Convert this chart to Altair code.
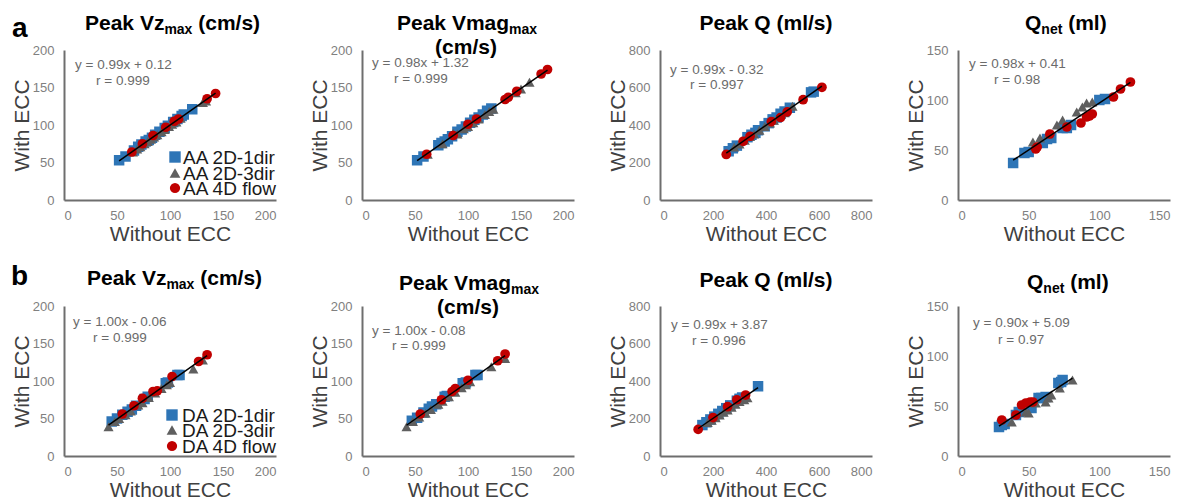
import altair as alt
import pandas as pd

# ---------------- data ----------------
SERIES = ["2D-1dir", "2D-3dir", "4D flow"]
COLORS = ["#2E75B6", "#5F5F5F", "#C00000"]
SHAPES = ["square", "triangle-up", "circle"]
SIZES = [110, 95, 85]

# Row a : ascending aorta (AA)
AA_VZ_1DIR = [(52, 53), (58, 58), (66, 66), (70, 71), (73, 74), (77, 78), (80, 80), (83, 83), (86, 87), (90, 91),
              (95, 96), (98, 99), (103, 104), (107, 108), (111, 112), (113, 114), (121, 121)]
AA_VZ_3DIR = [(65, 64), (69, 68), (72, 71), (76, 75), (79, 78), (82, 81), (85, 84), (88, 87), (92, 91), (95, 94),
              (99, 98), (102, 101), (106, 104), (110, 109), (131, 130), (134, 132)]
AA_VZ_4D = [(64, 64), (74, 75), (84, 86), (96, 97), (104, 105), (108, 108), (135, 135), (143, 142)]

AA_VMAG_1DIR = [(52, 53), (58, 58), (72, 73), (75, 76), (78, 78), (81, 81), (85, 85), (90, 91), (94, 94), (98, 98),
                (102, 103), (106, 107), (110, 110), (114, 114), (118, 119), (122, 122)]
AA_VMAG_3DIR = [(62, 61), (76, 75), (86, 89), (90, 88), (96, 95), (100, 98), (105, 103), (110, 108), (116, 114),
                (120, 118), (124, 121), (145, 143), (150, 148), (158, 157)]
AA_VMAG_4D = [(61, 61), (86, 86), (100, 101), (108, 108), (135, 134), (138, 137), (146, 145), (169, 168), (175, 174)]

AA_Q_1DIR = [(259, 260), (275, 276), (290, 290), (330, 335), (345, 348), (360, 358), (370, 372), (395, 393),
             (410, 410), (425, 430), (440, 440), (455, 460), (470, 472), (490, 492), (570, 574), (580, 578)]
AA_Q_3DIR = [(280, 282), (300, 298), (320, 318), (340, 338), (355, 352), (375, 372), (395, 392), (415, 410),
             (430, 425), (450, 445), (470, 465), (500, 500)]
AA_Q_4D = [(250, 243), (314, 313), (340, 340), (420, 418), (455, 440), (480, 470), (540, 535), (611, 601)]

AA_QNET_1DIR = [(39, 37), (47, 47), (50, 48), (60, 57), (63, 61), (66, 62), (74, 72), (77, 72), (80, 75),
                (100, 100), (104, 101)]
AA_QNET_3DIR = [(53, 58), (58, 62), (64, 66), (70, 75), (74, 80), (84, 88), (88, 93), (91, 97), (95, 98)]
AA_QNET_4D = [(55, 51), (56, 53), (65, 66), (77, 73), (87, 77), (91, 83), (93, 84), (95, 86), (110, 103),
              (115, 111), (122, 118)]

# Row b : descending aorta (DA)
DA_VZ_1DIR = [(45, 46), (50, 50), (55, 55), (60, 59), (64, 62), (68, 67), (76, 76), (79, 79), (96, 97), (98, 98),
              (107, 108), (109, 108)]
DA_VZ_3DIR = [(42, 39), (48, 46), (52, 50), (58, 55), (63, 60), (70, 68), (74, 71), (80, 78), (86, 84), (92, 90),
              (97, 95), (100, 98), (122, 116), (131, 128)]
DA_VZ_4D = [(55, 56), (66, 67), (74, 77), (84, 86), (88, 87), (102, 106), (127, 126), (135, 135)]

DA_VMAG_1DIR = [(47, 47), (52, 51), (58, 58), (63, 63), (66, 66), (70, 69), (78, 79), (80, 80), (95, 97), (98, 98),
                (107, 108), (109, 108)]
DA_VMAG_3DIR = [(42, 39), (48, 46), (54, 52), (60, 57), (65, 62), (72, 69), (76, 73), (82, 79), (88, 85), (94, 91),
                (98, 95), (102, 99), (122, 119), (135, 130)]
DA_VMAG_4D = [(55, 56), (75, 75), (85, 86), (88, 90), (100, 101), (128, 127), (135, 136)]

DA_Q_1DIR = [(160, 165), (175, 180), (190, 195), (205, 210), (220, 225), (235, 240), (250, 255), (265, 270),
             (290, 295), (300, 305), (310, 312), (370, 372)]
DA_Q_3DIR = [(180, 178), (195, 190), (210, 203), (225, 218), (240, 233), (255, 245), (270, 260), (285, 275),
             (300, 290), (318, 300), (330, 310)]
DA_Q_4D = [(144, 142), (200, 205), (255, 263), (290, 300), (323, 325)]

DA_QNET_1DIR = [(29, 29), (31, 31), (33, 32), (41, 41), (43, 44), (52, 48), (57, 58), (59, 58), (62, 59), (71, 73),
                (73, 74), (74, 76)]
DA_QNET_3DIR = [(38, 34), (48, 44), (50, 43), (55, 53), (62, 54), (64, 58), (66, 61), (72, 68), (81, 76)]
DA_QNET_4D = [(31, 36), (41, 41), (45, 51), (48, 53), (51, 54), (53, 54)]

EQUATIONS_A = ["y = 0.99x + 0.12", "y = 0.98x + 1.32", "y = 0.99x - 0.32", "y = 0.98x + 0.41"]
R_A = ["r = 0.999", "r = 0.999", "r = 0.997", "r = 0.98"]
EQUATIONS_B = ["y = 1.00x - 0.06", "y = 1.00x - 0.08", "y = 0.99x + 3.87", "y = 0.90x + 5.09"]
R_B = ["r = 0.999", "r = 0.999", "r = 0.996", "r = 0.97"]

AXIS_MAX = [200, 200, 800, 150]
AXIS_STEP = [50, 50, 200, 50]

LEGEND_A = ["AA 2D-1dir", "AA 2D-3dir", "AA 4D flow"]
LEGEND_B = ["DA 2D-1dir", "DA 2D-3dir", "DA 4D flow"]

# ---------------- layout / style ----------------
FONT = "Liberation Sans"
W, H = 212, 150
TS, SS = 21, 14  # title and subscript font sizes

BOLD_W = {" ": .278, "(": .333, ")": .333, "/": .278, "P": .667, "e": .556, "a": .556, "k": .556, "V": .667,
          "z": .5, "m": .889, "x": .556, "g": .611, "c": .556, "s": .556, "Q": .778, "n": .611, "t": .333,
          "l": .278}


def tw(s, size):
    return sum(BOLD_W.get(c, .556) for c in s) * size


ONE = alt.Data(values=[{"k": 1}])


def text(px, py, s, size, color="black", weight="normal", align="left"):
    return alt.Chart(ONE).mark_text(
        font=FONT, fontSize=size, fontWeight=weight, color=color, align=align, baseline="alphabetic"
    ).encode(x=alt.value(px), y=alt.value(py), text=alt.value(s))


def title_run(x0, y0, parts):
    layers = []
    x = x0
    for s, size, dy in parts:
        lead = len(s) - len(s.lstrip(" "))
        x += tw(" " * lead, size)
        layers.append(text(x, y0 + dy, s.strip(" "), size, weight="bold"))
        x += tw(s.strip(" "), size)
    return layers


def panel(sets, i, eq, r, eq_pos, title_layers, extra=()):
    rows = []
    for s, pts in zip(SERIES, sets):
        for x, y in pts:
            rows.append({"x": x, "y": y, "s": s})
    df = pd.DataFrame(rows)
    mx, st = AXIS_MAX[i], AXIS_STEP[i]
    ticks = list(range(0, mx + 1, st))
    xs = alt.Scale(domain=[0, mx], nice=False)
    ys = alt.Scale(domain=[0, mx], nice=False)
    base = alt.Chart(df)
    pts_layer = base.mark_point(filled=True, opacity=1, strokeWidth=0.8).encode(
        x=alt.X("x:Q", scale=xs, axis=alt.Axis(values=ticks, tickCount=len(ticks), labelOverlap=False,
                                                title="Without ECC")),
        y=alt.Y("y:Q", scale=ys, axis=alt.Axis(values=ticks, tickCount=len(ticks), labelOverlap=False,
                                                title="With ECC")),
        shape=alt.Shape("s:N", scale=alt.Scale(domain=SERIES, range=SHAPES), legend=None),
        color=alt.Color("s:N", scale=alt.Scale(domain=SERIES, range=COLORS), legend=None),
        size=alt.Size("s:N", scale=alt.Scale(domain=SERIES, range=SIZES), legend=None),
    )
    line = base.transform_regression("x", "y").mark_line(color="black", strokeWidth=1.5).encode(
        x="x:Q", y="y:Q")
    (ex, ey), (rx, ry) = eq_pos
    layers = [pts_layer, line,
              text(ex, ey, eq, 13.5, color="#6b6b6b"),
              text(rx, ry, r, 13.5, color="#6b6b6b")]
    layers += title_layers
    layers += list(extra)
    return alt.layer(*layers).properties(width=W, height=H)


def legend(x_sym, x_txt, ys, labels):
    layers = []
    for k, (lab, yy) in enumerate(zip(labels, ys)):
        layers.append(alt.Chart(ONE).mark_point(filled=True, opacity=1, shape=SHAPES[k], size=SIZES[k] + 20,
                                                color=COLORS[k]).encode(x=alt.value(x_sym), y=alt.value(yy)))
        layers.append(alt.Chart(ONE).mark_text(font=FONT, fontSize=19, color="#1a1a1a", align="left",
                                               baseline="middle").encode(
            x=alt.value(x_txt), y=alt.value(yy + 1), text=alt.value(lab)))
    return layers


# Row a
a1 = panel([AA_VZ_1DIR, AA_VZ_3DIR, AA_VZ_4D], 0, EQUATIONS_A[0], R_A[0], ((11, 19), (32, 35)),
           title_run(21, -20, [("Peak Vz", TS, 0), ("max", SS, 4), (" (cm/s)", TS, 0)]),
           extra=[text(-52, -13, "a", 28, weight="bold")] + legend(111, 119, [107, 123, 138], LEGEND_A))
a2 = panel([AA_VMAG_1DIR, AA_VMAG_3DIR, AA_VMAG_4D], 1, EQUATIONS_A[1], R_A[1], ((10, 17), (32, 33)),
           title_run(35, -20, [("Peak Vmag", TS, 0), ("max", SS, 4)])
           + [text(104, 4, "(cm/s)", TS, weight="bold", align="center")])
a3 = panel([AA_Q_1DIR, AA_Q_3DIR, AA_Q_4D], 2, EQUATIONS_A[2], R_A[2], ((10, 24), (30, 39)),
           [text(106, -20, "Peak Q (ml/s)", TS, weight="bold", align="center")])
a4 = panel([AA_QNET_1DIR, AA_QNET_3DIR, AA_QNET_4D], 3, EQUATIONS_A[3], R_A[3], ((11, 18), (36, 34)),
           title_run(67, -20, [("Q", TS, 0), ("net", SS, 4), (" (ml)", TS, 0)]))

# Row b
b1 = panel([DA_VZ_1DIR, DA_VZ_3DIR, DA_VZ_4D], 0, EQUATIONS_B[0], R_B[0], ((9, 20), (29, 36)),
           title_run(23, -21, [("Peak Vz", TS, 0), ("max", SS, 4), (" (cm/s)", TS, 0)]),
           extra=[text(-53, -21, "b", 28, weight="bold")] + legend(108, 118, [109, 124, 140], LEGEND_B))
b2 = panel([DA_VMAG_1DIR, DA_VMAG_3DIR, DA_VMAG_4D], 1, EQUATIONS_B[1], R_B[1], ((10, 29), (30, 44)),
           title_run(37, -16, [("Peak Vmag", TS, 0), ("max", SS, 4)])
           + [text(106, 8, "(cm/s)", TS, weight="bold", align="center")])
b3 = panel([DA_Q_1DIR, DA_Q_3DIR, DA_Q_4D], 2, EQUATIONS_B[2], R_B[2], ((11, 23), (32, 39)),
           [text(106, -19, "Peak Q (ml/s)", TS, weight="bold", align="center")])
b4 = panel([DA_QNET_1DIR, DA_QNET_3DIR, DA_QNET_4D], 3, EQUATIONS_B[3], R_B[3], ((15, 21), (40, 38)),
           title_run(69, -17, [("Q", TS, 0), ("net", SS, 4), (" (ml)", TS, 0)]))

chart = alt.concat(a1, a2, a3, a4, b1, b2, b3, b4, columns=4,
                   spacing={"row": 106, "column": 86}, bounds="flush").configure_view(
    stroke=None
).configure_axis(
    grid=False, ticks=False, domainColor="#6e6e6e", domainWidth=2, labelOverlap=False,
    labelFont=FONT, labelFontSize=13, labelColor="#808080", labelPadding=9,
    titleFont=FONT, titleFontSize=21, titleFontWeight="normal", titleColor="#404040",
).configure_axisX(titlePadding=1).configure_axisY(titlePadding=0, labelPadding=10).properties(
    padding={"left": 3, "top": 5, "right": 3, "bottom": 3}, background="white"
)

chart.save("out.html", embed_options={"renderer": "svg", "actions": False})
